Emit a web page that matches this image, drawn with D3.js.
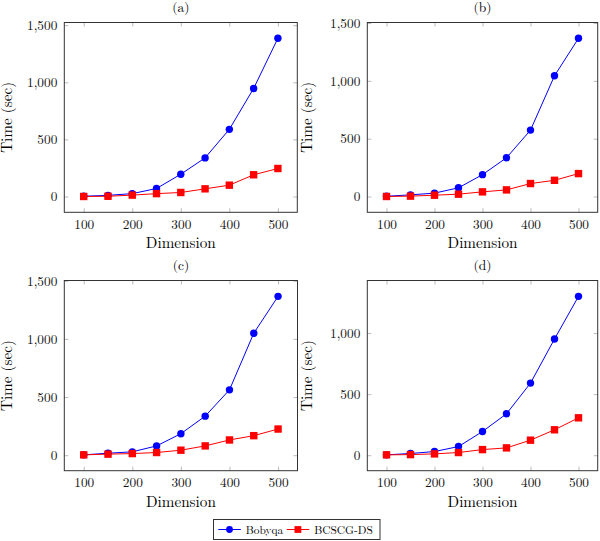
<!DOCTYPE html>
<html>
<head>
<meta charset="utf-8">
<script src="https://cdn.jsdelivr.net/npm/d3@7"></script>
<style>
  body { margin: 0; background: #fff; }
  svg { display: block; }
</style>
</head>
<body>
<svg id="canvas" width="600" height="541"></svg>
<script>
// dimensions on the x axis
let dims = [100, 150, 200, 250, 300, 350, 400, 450, 500]
let xTicks = [100, 200, 300, 400, 500]
let yTicks = [0, 500, 1000, 1500]

let panelNames = ["(a)", "(b)", "(c)", "(d)"]
let seriesNames = ["Bobyqa", "BCSCG-DS"]

// Bobyqa timings (sec)
let bobyqaA = [2, 10, 25, 70, 195, 338, 588, 946, 1385]
let bobyqaB = [2, 14, 29, 75, 189, 335, 574, 1044, 1368]
let bobyqaC = [3, 17, 29, 80, 185, 336, 562, 1049, 1366]
let bobyqaD = [3, 14, 30, 71, 194, 339, 590, 951, 1300]

// BCSCG-DS timings (sec)
let bcscgA = [0, 2, 12, 25, 35, 67, 99, 190, 245]
let bcscgB = [0, 3, 11, 20, 40, 57, 112, 140, 198]
let bcscgC = [3, 9, 14, 23, 43, 80, 131, 168, 225]
let bcscgD = [3, 5, 11, 22, 46, 60, 123, 208, 306]

let blue = "#0000ff"
let red = "#ff0000"
let font = "'Latin Modern Roman'"

let canvas = d3.select("#canvas").attr("font-family", font)

// plot boxes of the four panels (col = left edge of the panel column)
let boxes = [
    {col: 0, x0: 64.3, x1: 297.3, y0: 22.5, y1: 212.3},
    {col: 300, x0: 367.3, x1: 597.7, y0: 22.5, y1: 212.3},
    {col: 0, x0: 64.3, x1: 297.5, y0: 280.5, y1: 470.7},
    {col: 300, x0: 367.3, x1: 597.7, y0: 280.5, y1: 470.7}
]

let panels = [
    {title: panelNames[0], blue: bobyqaA, red: bcscgA, box: boxes[0]},
    {title: panelNames[1], blue: bobyqaB, red: bcscgB, box: boxes[1]},
    {title: panelNames[2], blue: bobyqaC, red: bcscgC, box: boxes[2]},
    {title: panelNames[3], blue: bobyqaD, red: bcscgD, box: boxes[3]}
]

let enlarge = (lo, hi) => {
    let r = hi - lo
    return [lo - 0.1 * r, hi + 0.1 * r]
}

let drawPanel = (p) => {
    let b = p.box
    let g = canvas.append("g")

    let xScale = d3.scaleLinear()
                .domain(enlarge(d3.min(dims), d3.max(dims)))
                .range([b.x0, b.x1])

    let all = p.blue.concat(p.red)
    let yScale = d3.scaleLinear()
                .domain(enlarge(d3.min(all), d3.max(all)))
                .range([b.y1, b.y0])

    let yDom = yScale.domain()
    let yt = yTicks.filter(v => v >= yDom[0] && v <= yDom[1])

    // ticks on all four sides, pointing inward
    let xAxis = d3.axisBottom(xScale).tickValues(xTicks).tickSize(-4).tickPadding(7).tickFormat(d3.format("d"))
    let xAxisTop = d3.axisTop(xScale).tickValues(xTicks).tickSize(-4).tickFormat("")
    let yAxis = d3.axisLeft(yScale).tickValues(yt).tickSize(-4).tickPadding(7).tickFormat(d3.format(","))
    let yAxisRight = d3.axisRight(yScale).tickValues(yt).tickSize(-4).tickFormat("")

    let axes = [
        [xAxis, "translate(0," + b.y1 + ")"],
        [xAxisTop, "translate(0," + b.y0 + ")"],
        [yAxis, "translate(" + b.x0 + ",0)"],
        [yAxisRight, "translate(" + b.x1 + ",0)"]
    ]
    axes.forEach(a => {
        let ag = g.append("g").attr("transform", a[1]).call(a[0])
        ag.attr("font-family", font).attr("font-size", 13.3)
        ag.select(".domain").remove()
        ag.selectAll(".tick line").attr("stroke", "#a8a8a8").attr("stroke-width", 0.8)
        ag.selectAll(".tick text").attr("fill", "#111")
    })

    g.append("rect")
        .attr("x", b.x0)
        .attr("y", b.y0)
        .attr("width", b.x1 - b.x0)
        .attr("height", b.y1 - b.y0)
        .attr("fill", "none")
        .attr("stroke", "#333")
        .attr("stroke-width", 1)

    let line = d3.line()
                .x((d, i) => xScale(dims[i]))
                .y(d => yScale(d))

    g.append("path")
        .datum(p.blue)
        .attr("d", line)
        .attr("fill", "none")
        .attr("stroke", blue)
        .attr("stroke-width", 1)

    g.append("path")
        .datum(p.red)
        .attr("d", line)
        .attr("fill", "none")
        .attr("stroke", red)
        .attr("stroke-width", 1)

    g.selectAll(".dot")
        .data(p.blue)
        .enter()
        .append("circle")
        .attr("cx", (d, i) => xScale(dims[i]))
        .attr("cy", d => yScale(d))
        .attr("r", 3.7)
        .attr("fill", blue)

    let s = 7.4
    g.selectAll(".sq")
        .data(p.red)
        .enter()
        .append("rect")
        .attr("x", (d, i) => xScale(dims[i]) - s / 2)
        .attr("y", d => yScale(d) - s / 2)
        .attr("width", s)
        .attr("height", s)
        .attr("fill", red)

    // title and axis labels
    g.append("text")
        .attr("x", (b.x0 + b.x1) / 2)
        .attr("y", b.y0 - 10.5)
        .attr("text-anchor", "middle")
        .attr("font-size", 13.5)
        .text(p.title)

    g.append("text")
        .attr("x", (b.x0 + b.x1) / 2)
        .attr("y", b.y1 + 36)
        .attr("text-anchor", "middle")
        .attr("font-size", 15.2)
        .text("Dimension")

    let lx = b.col + 12
    let ly = (b.y0 + b.y1) / 2
    g.append("text")
        .attr("transform", "translate(" + lx + "," + ly + ") rotate(-90)")
        .attr("text-anchor", "middle")
        .attr("font-size", 15.2)
        .text("Time (sec)")
}

panels.forEach(drawPanel)

// legend
let lg = canvas.append("g")
lg.append("rect")
    .attr("x", 213.5).attr("y", 519.5)
    .attr("width", 166.5).attr("height", 20)
    .attr("fill", "#fff").attr("stroke", "#333").attr("stroke-width", 1)

let legendItems = [
    {name: seriesNames[0], color: blue, x: 218.3, shape: "circle"},
    {name: seriesNames[1], color: red, x: 286.7, shape: "square"}
]
legendItems.forEach(it => {
    let cy = 529.5
    lg.append("line")
        .attr("x1", it.x).attr("x2", it.x + 22.5)
        .attr("y1", cy).attr("y2", cy)
        .attr("stroke", it.color).attr("stroke-width", 1)
    if (it.shape == "circle") {
        lg.append("circle").attr("cx", it.x + 11.2).attr("cy", cy).attr("r", 3.4).attr("fill", it.color)
    } else {
        lg.append("rect").attr("x", it.x + 11.2 - 3.4).attr("y", cy - 3.4).attr("width", 6.8).attr("height", 6.8).attr("fill", it.color)
    }
    lg.append("text")
        .attr("x", it.x + 27.5)
        .attr("y", cy + 4)
        .attr("font-size", 11.4)
        .text(it.name)
})
</script>
</body>
</html>
